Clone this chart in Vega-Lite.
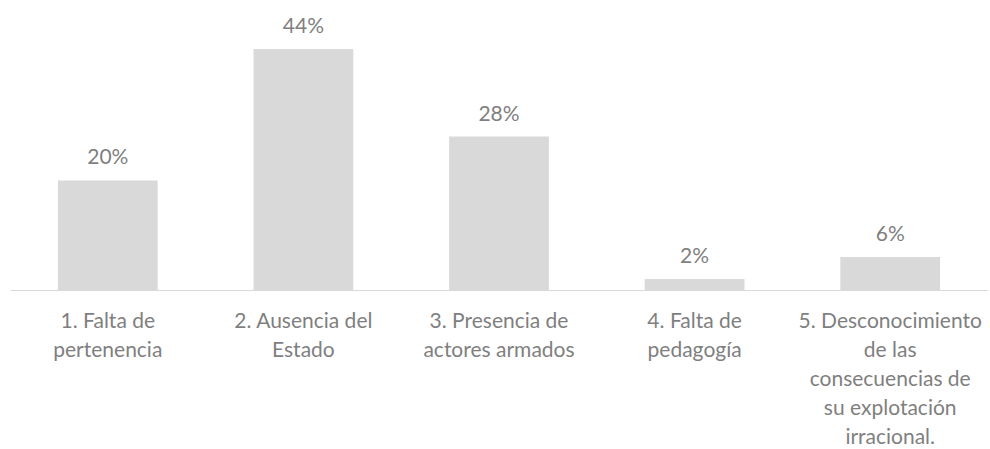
{
  "$schema": "https://vega.github.io/schema/vega-lite/v6.json",
  "width": 978,
  "height": 274,
  "padding": {"left": 10, "top": 15, "right": 2, "bottom": 0},
  "background": "white",
  "config": {"view": {"stroke": null}, "font": "Lato"},
  "data": {
    "values": [
      {"causa": "1. Falta de pertenencia", "pct": 0.20},
      {"causa": "2. Ausencia del Estado", "pct": 0.44},
      {"causa": "3. Presencia de actores armados", "pct": 0.28},
      {"causa": "4. Falta de pedagogía", "pct": 0.02},
      {"causa": "5. Desconocimiento de las consecuencias de su explotación irracional.", "pct": 0.06}
    ]
  },
  "encoding": {
    "x": {
      "field": "causa",
      "type": "nominal",
      "sort": null,
      "scale": {"paddingInner": 0.49, "paddingOuter": 0.245},
      "axis": {
        "title": null,
        "labelAngle": 0,
        "ticks": false,
        "domainColor": "#d9d9d9",
        "domainWidth": 1,
        "labelFont": "Lato",
        "labelFontSize": 21,
        "labelColor": "#7f7f7f",
        "labelPadding": 20,
        "labelBaseline": "top",
        "labelLineHeight": 29,
        "labelLimit": 0,
        "labelOverlap": false,
        "labelExpr": "substring(datum.value, 0, 2) == '1.' ? ['1. Falta de', 'pertenencia'] : substring(datum.value, 0, 2) == '2.' ? ['2. Ausencia del', 'Estado'] : substring(datum.value, 0, 2) == '3.' ? ['3. Presencia de', 'actores armados'] : substring(datum.value, 0, 2) == '4.' ? ['4. Falta de', 'pedagogía'] : ['5. Desconocimiento', 'de las', 'consecuencias de', 'su explotación', 'irracional.']"
      }
    },
    "y": {
      "field": "pct",
      "type": "quantitative",
      "scale": {"domain": [0, 0.5]},
      "axis": null
    }
  },
  "layer": [
    {"mark": {"type": "bar", "color": "#d9d9d9"}},
    {
      "mark": {"type": "text", "baseline": "alphabetic", "dy": -16, "font": "Lato", "fontSize": 21, "color": "#7f7f7f"},
      "encoding": {"text": {"field": "pct", "type": "quantitative", "format": ".0%"}}
    }
  ]
}
